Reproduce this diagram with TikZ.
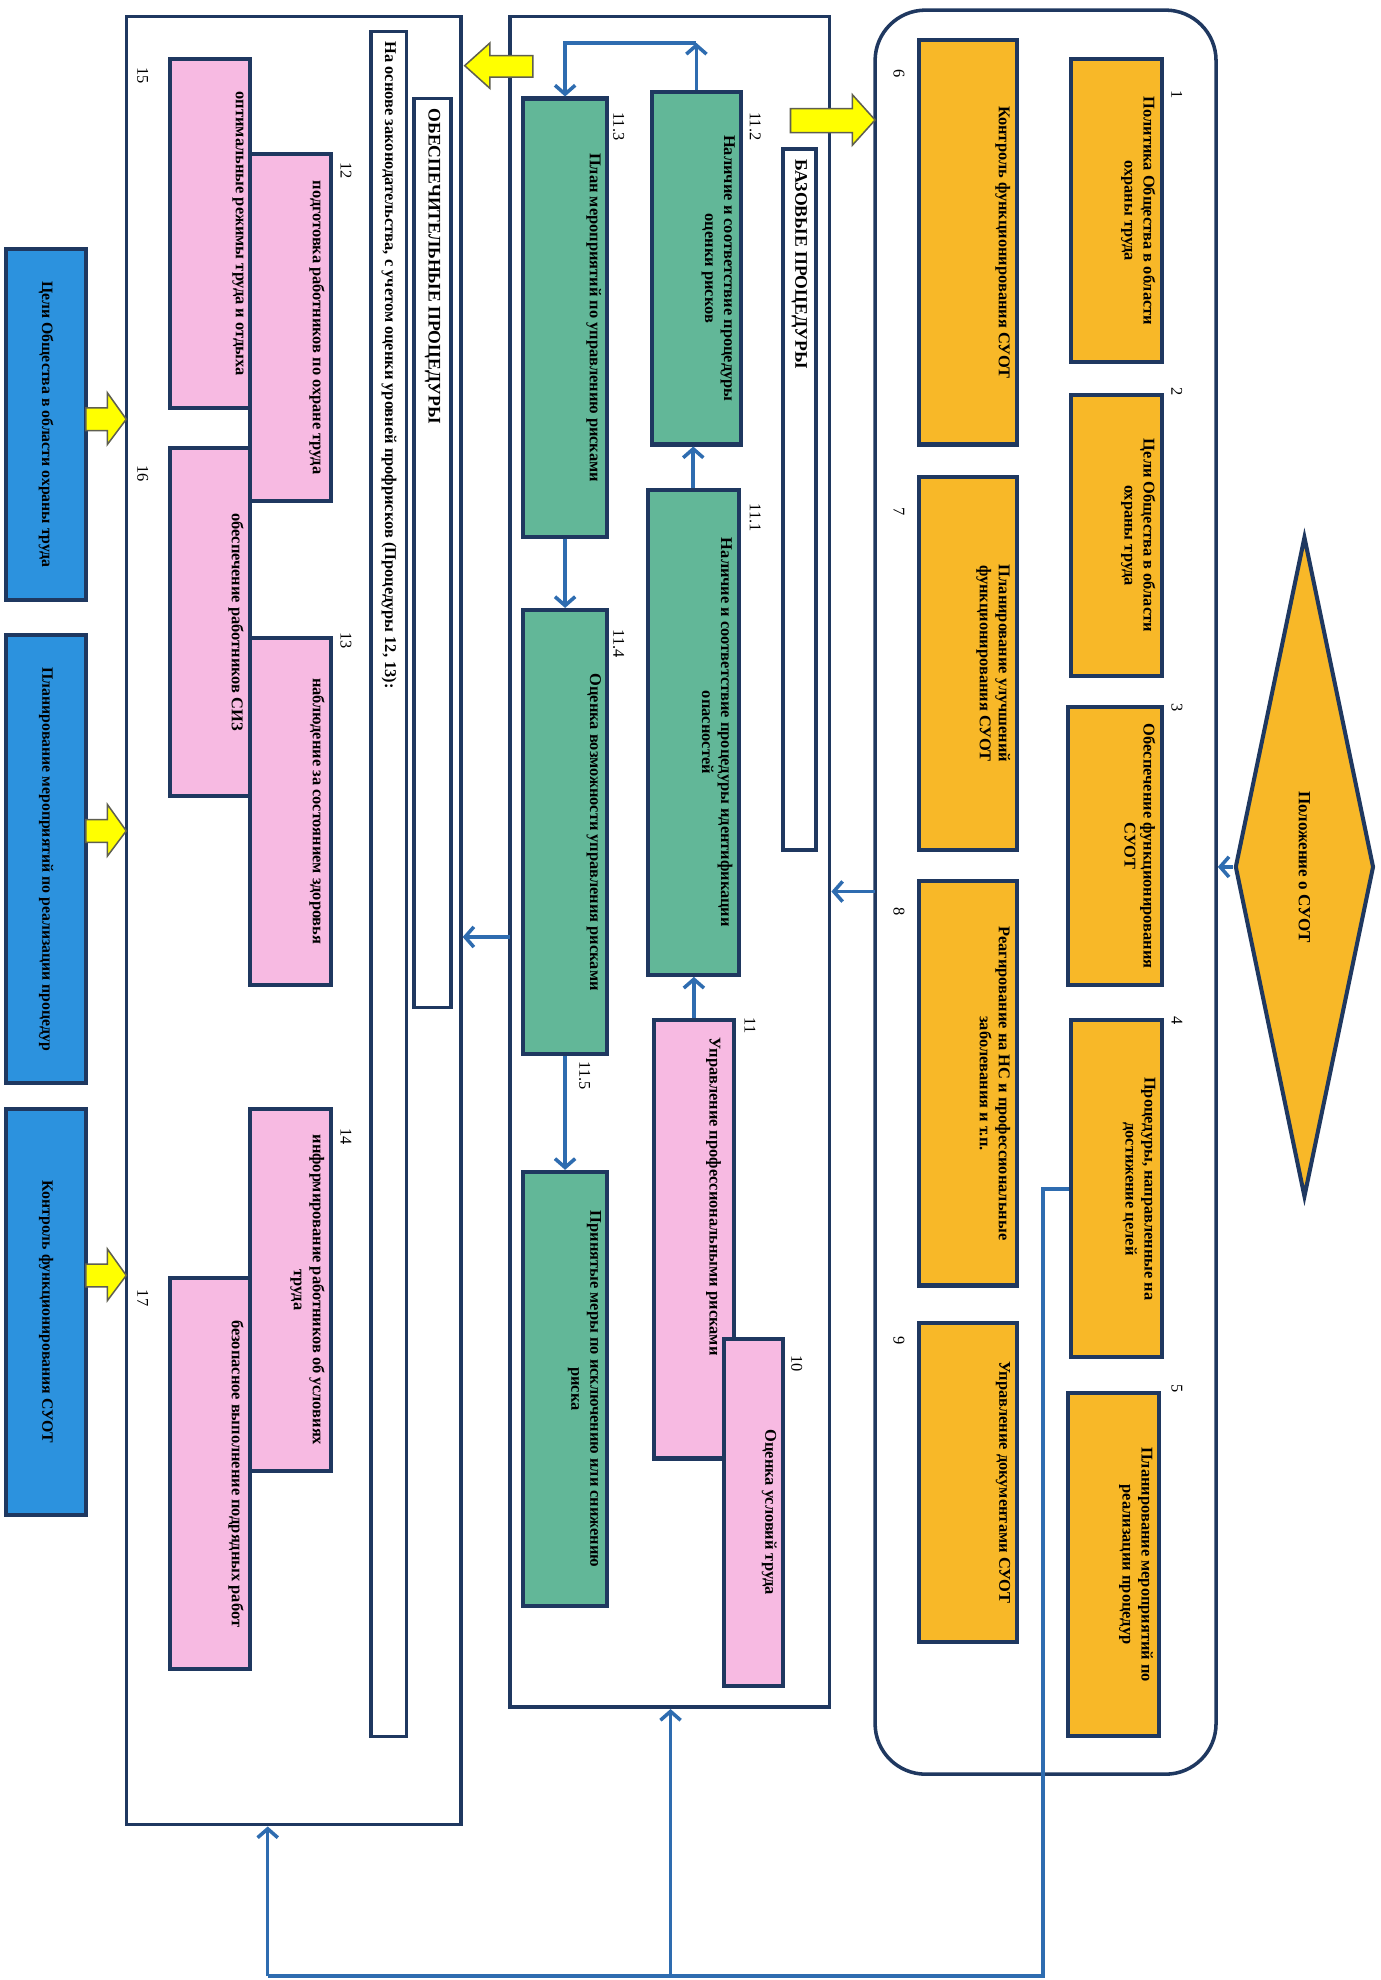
\documentclass[tikz,border=0pt]{standalone}
\usepackage{fontspec}
\setmainfont{Liberation Serif}
\usetikzlibrary{shapes.geometric,arrows.meta}
\definecolor{orng}{RGB}{248,184,40}
\definecolor{teal2}{RGB}{98,183,152}
\definecolor{pinkb}{RGB}{247,186,226}
\definecolor{blueb}{RGB}{44,146,222}
\definecolor{navy}{RGB}{31,56,96}
\definecolor{connc}{RGB}{46,108,176}
\definecolor{yel}{RGB}{255,255,0}
\definecolor{yelo}{RGB}{95,95,80}
\newcommand\bxt[3]{\begin{minipage}[c][#2][t]{#1}\centering\vspace*{5pt}#3\end{minipage}}
\newcommand\bxl[3]{\begin{minipage}[c][#2][t]{#1}\raggedright\vspace*{10pt}\hspace*{14pt}#3\end{minipage}}
\newcommand\bxc[3]{\begin{minipage}[c][#2][c]{#1}\centering #3\end{minipage}}
\newcommand\tbt[3]{\begin{minipage}[c][#2][c]{#1}\raggedright\hspace*{8pt}#3\end{minipage}}
\newcommand\bx[8]{%
 \pgfmathsetmacro\bcx{(#3+#5)/2}\pgfmathsetmacro\bcy{(#4+#6)/2}%
 \pgfmathsetmacro\bw{#6-#4}\pgfmathsetmacro\bh{#5-#3}%
 \node[#2, minimum width=\bw pt, minimum height=\bh pt, rotate=-90] (#1) at (\bcx,\bcy) {#8{\bw pt}{\bh pt}{#7}};}
\tikzset{
 box/.style={draw=navy, line width=3.2pt, inner sep=0pt, font=\fontsize{13}{15}\selectfont\bfseries},
 obox/.style={box, fill=orng},
 tbox/.style={box, fill=teal2},
 pbox/.style={box, fill=pinkb},
 bbox/.style={box, fill=blueb, font=\fontsize{12.5}{14}\selectfont\bfseries},
 wbox/.style={box, fill=white, line width=2.8pt, font=\fontsize{14}{16}\selectfont\bfseries},
 panel/.style={draw=navy, line width=2.8pt, inner sep=0pt},
 num/.style={rotate=-90, font=\fontsize{13}{14}\selectfont, inner sep=1pt},
 conn/.style={draw=connc, line width=2.8pt},
 tip/.style={-{Straight Barb[length=7pt,width=16pt]}},
 yarr/.style={fill=yel, draw=yelo, line width=1.2pt, line join=miter}
}
\begin{document}
\begin{tikzpicture}[x=1pt,y=-1pt]
\useasboundingbox[fill=white] (0,0) rectangle (1093,1568);
% panels
\node[panel, rounded corners=40pt, minimum width=270pt, minimum height=1397pt] (rp) at (828,706.5) {};
\node[panel, minimum width=253pt, minimum height=1339pt] (mp) at (530.5,682.5) {};
\node[panel, minimum width=265pt, minimum height=1432pt] (lp) at (232.5,729) {};
% diamond
\node[diamond, draw=navy, fill=orng, line width=3.2pt, minimum width=523pt, minimum height=110pt, rotate=-90, inner sep=0pt] (dm) at (1033,686.5) {};
\node[rotate=-90, font=\fontsize{13.5}{15}\selectfont\bfseries] (dmt) at (dm.center) {Положение о СУОТ};
% right panel boxes
\bx{b1}{obox}{848}{47}{920}{287}{Политика Общества в области\\охраны труда}{\bxt}
\bx{b2}{obox}{848}{313}{920}{535}{Цели Общества в области\\охраны труда}{\bxt}
\bx{b3}{obox}{846}{560}{920}{780}{Обеспечение функционирования\\СУОТ}{\bxt}
\bx{b4}{obox}{848}{808}{920}{1075}{Процедуры, направленные на\\достижение целей}{\bxt}
\bx{b5}{obox}{846}{1103}{918}{1375}{Планирование мероприятий по\\реализации процедур}{\bxt}
\bx{b6}{obox}{728}{32}{805}{352}{Контроль функционирования СУОТ}{\bxt}
\bx{b7}{obox}{728}{378}{805}{673}{Планирование улучшений\\функционирования СУОТ}{\bxt}
\bx{b8}{obox}{728}{698}{805}{1018}{Реагирование на НС и профессиональные\\заболевания и т.п.}{\bxt}
\bx{b9}{obox}{728}{1048}{805}{1300}{Управление документами СУОТ}{\bxt}
\node[num] (n1) at (932,75) {1};
\node[num] (n2) at (932,310) {2};
\node[num] (n3) at (932,560) {3};
\node[num] (n4) at (932,808) {4};
\node[num] (n5) at (932,1100) {5};
\node[num] (n6) at (712,58) {6};
\node[num] (n7) at (712,405) {7};
\node[num] (n8) at (712,722) {8};
\node[num] (n9) at (712,1062) {9};
% middle panel
\bx{bbase}{wbox}{620}{118}{646}{673}{БАЗОВЫЕ ПРОЦЕДУРЫ}{\tbt}
\bx{b112}{tbox}{516}{73}{587}{352}{Наличие и соответствие процедуры\\оценки рисков}{\bxt}
\bx{b111}{tbox}{513}{388}{585}{772}{Наличие и соответствие процедуры идентификации\\опасностей}{\bxt}
\bx{b11}{pbox}{518}{808}{581}{1155}{Управление профессиональными рисками}{\bxl}
\bx{b10}{pbox}{573}{1060}{620}{1335}{Оценка условий труда}{\bxt}
\bx{b113}{tbox}{414}{78}{481}{425}{План мероприятий по управлению рисками}{\bxt}
\bx{b114}{tbox}{414}{483}{481}{835}{Оценка возможности управления рисками}{\bxt}
\bx{b115}{tbox}{414}{928}{481}{1272}{Принятые меры по исключению или снижению\\риска}{\bxt}
\node[num] (n112) at (598,100) {11.2};
\node[num] (n111) at (598,410) {11.1};
\node[num] (n11) at (594,812) {11};
\node[num] (n10) at (631,1080) {10};
\node[num] (n113) at (490,100) {11.3};
\node[num] (n114) at (490,510) {11.4};
\node[num] (n115) at (463,852) {11.5};
% left panel
\bx{bobes}{wbox}{328}{78}{357}{798}{ОБЕСПЕЧИТЕЛЬНЫЕ ПРОЦЕДУРЫ}{\tbt}
\bx{bnaos}{wbox}{294}{25}{322}{1375}{\fontsize{13}{15}\selectfont На основе законодательства, с учетом оценки уровней профрисков (Процедуры 12, 13):}{\tbt}
\bx{b15}{pbox}{135}{47}{198}{323}{оптимальные режимы труда и отдыха}{\bxt}
\bx{b12}{pbox}{198}{122}{262}{397}{подготовка работников по охране труда}{\bxt}
\bx{b16}{pbox}{135}{355}{198}{630}{обеспечение работников СИЗ}{\bxt}
\bx{b13}{pbox}{198}{505}{262}{780}{наблюдение за состоянием здоровья}{\bxt}
\bx{b14}{pbox}{198}{878}{262}{1165}{информирование работников об условиях\\труда}{\bxt}
\bx{b17}{pbox}{135}{1012}{198}{1322}{безопасное выполнение подрядных работ}{\bxt}
\node[num] (n12) at (274,135) {12};
\node[num] (n13) at (274,507) {13};
\node[num] (n14) at (274,900) {14};
\node[num] (n15) at (113,60) {15};
\node[num] (n16) at (113,375) {16};
\node[num] (n17) at (113,1028) {17};
% blue boxes
\bx{bl1}{bbox}{5}{197}{68}{475}{Цели Общества в области охраны труда}{\bxc}
\bx{bl2}{bbox}{5}{503}{68}{858}{Планирование мероприятий по реализации процедур}{\bxc}
\bx{bl3}{bbox}{5}{878}{68}{1200}{Контроль функционирования СУОТ}{\bxc}
% yellow block arrows
\draw[yarr] (626,86) -- (675,86) -- (675,75) -- (693,95) -- (675,115) -- (675,105) -- (626,105) -- cycle;
\draw[yarr] (422,44) -- (388,44) -- (388,34) -- (368,52) -- (388,70) -- (388,61) -- (422,61) -- cycle;
\foreach \yy in {332,658,1010}{
 \draw[yarr] (68,\yy-9) -- (85,\yy-9) -- (85,\yy-21) -- (100,\yy) -- (85,\yy+20) -- (85,\yy+9) -- (68,\yy+9) -- cycle;}
% connectors in the middle panel
\coordinate (k1) at (551,34);
\draw[conn,tip] (b11.west) -- (b11.west |- b111.east);
\draw[conn,tip] (b111.west) -- (b111.west |- b112.east);
\draw[conn,tip] (b112.west) -- (b112.west |- k1);
\draw[conn,tip] (b112.west |- k1) -- (b113.west |- k1) -- (b113.west);
\draw[conn,tip] (b113.east) -- (b114.west);
\draw[conn,tip] (b114.east) -- (b115.west);
% connectors between panels
\draw[conn,tip] (dm.south) -- (rp.east |- dm.south);
\coordinate (a1) at (693,706);
\draw[conn,tip] (a1) -- (a1 -| mp.east);
\coordinate (a2) at (404,742);
\draw[conn,tip] (a2) -- (a2 -| lp.east);
% feedback line from box 4
\coordinate (jr) at (826,1565);
\coordinate (jm) at (531,1565);
\coordinate (jl) at (212,1565);
\draw[conn] (b4.south) -| (jr) -- (jl);
\draw[conn,tip] (jm) -- (jm |- mp.south);
\draw[conn,tip] (jl) -- (jl |- lp.south);
\end{tikzpicture}
\end{document}
